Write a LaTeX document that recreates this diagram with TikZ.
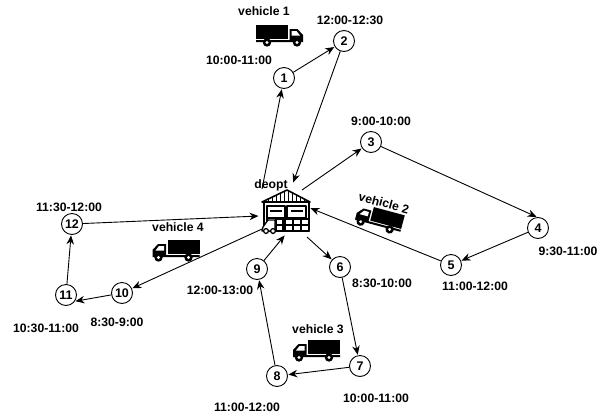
\documentclass[tikz,border=0pt]{standalone}
\usepackage{fontspec}
\setmainfont{Liberation Sans}
\usetikzlibrary{arrows.meta}
\tikzset{
  stopnode/.style={circle,draw,line width=0.9pt,fill=white,minimum size=21pt,inner sep=0pt,font=\bfseries\fontsize{12.5}{12.5}\selectfont},
  lab/.style={inner sep=0pt,font=\bfseries\fontsize{12.2}{13}\selectfont},
  route/.style={line width=0.9pt,-{Stealth[length=9pt,width=7.5pt]},shorten >=0.5pt},
  pics/truck/.style={code={
    \fill (-23.5,-8) rectangle (8.5,6);
    \fill (10,-4) -- (18,-4) -- (23.5,2) -- (23.5,9) -- (-23.5,9) -- (-23.5,7) -- (10,7) -- cycle;
    \fill[white] (12,-2) -- (17,-2) -- (20.5,2.5) -- (12,2.5) -- cycle;
    \fill (-12.5,9.5) circle (4.2); \fill[white] (-12.5,9.5) circle (1.6);
    \fill (17.5,9.5) circle (4.2); \fill[white] (17.5,9.5) circle (1.6);
  }}
}
\begin{document}
\begin{tikzpicture}[x=1pt,y=-1pt]
\useasboundingbox (0,0) rectangle (608,413);
% depot anchors
\coordinate (d1) at (262,189);
\coordinate (d2) at (293,183);
\coordinate (d3) at (302,190);
\coordinate (d5) at (310,208);
\coordinate (d6) at (307,237);
\coordinate (d9) at (285,235);
\coordinate (d10) at (262,229);
\coordinate (d12) at (259,216);
% warehouse
\begin{scope}[line width=1.3pt,line join=round]
  \draw[line width=1.6pt] (262,202) -- (287,190) -- (310,202) -- cycle;
  \foreach \x in {268,272,276,280,284,288,292,296,300,304}
    \draw[line width=1pt] (\x,{202-(\x<287?(\x-262)*0.48:(310-\x)*0.52)}) -- (\x,201);
  \draw[line width=1.6pt] (264,202) -- (264,231) -- (309,231) -- (309,202);
  \draw (267,206) rectangle (285,218);
  \draw (287,206) rectangle (306,218);
  \draw (270,211) -- (282,211);
  \draw (291,211) -- (303,211);
  \draw (267,218) -- (267,224);
  \draw (284,218) -- (284,231);
  \draw (276,219) rectangle (283,225);
  \draw (276,225) rectangle (283,231);
  \draw (285,219) rectangle (293,225);
  \draw (293,219) rectangle (301,225);
  \draw (301,219) rectangle (309,225);
  \draw (285,225) rectangle (293,231);
  \draw (293,225) rectangle (301,231);
  \draw (301,225) rectangle (309,231);
  \draw[fill=white] (275,220) -- (268,220) -- (263,227) -- (262,231) -- (275,231) -- cycle;
  \draw[fill=white] (266,231) circle (2.4);
  \draw[fill=white] (273,231) circle (2.4);
\end{scope}
% stops
\node[stopnode] (n1) at (284,78) {1};
\node[stopnode] (n2) at (344,41) {2};
\node[stopnode] (n3) at (371,142) {3};
\node[stopnode] (n4) at (538,228) {4};
\node[stopnode] (n5) at (451,265) {5};
\node[stopnode] (n6) at (340,267) {6};
\node[stopnode] (n7) at (360,366) {7};
\node[stopnode] (n8) at (277,376) {8};
\node[stopnode] (n9) at (257,269) {9};
\node[stopnode] (n10) at (122,293) {10};
\node[stopnode] (n11) at (66,295) {11};
\node[stopnode] (n12) at (72,224) {12};
% routes
\draw[route] (d1) -- (n1);
\draw[route] (n1) -- (n2);
\draw[route] (n2) -- (d2);
\draw[route] (d3) -- (n3);
\draw[route] (n3) -- (n4.95);
\draw[route] (n4) -- (n5);
\draw[route] (n5) -- (d5);
\draw[route] (d6) -- (n6);
\draw[route] (n6) -- (n7);
\draw[route] (n7) -- (n8);
\draw[route] (n8) -- (n9);
\draw[route] (n9) -- (d9);
\draw[route] (d10) -- (n10);
\draw[route] (n10) -- (n11.-35);
\draw[route] (n11) -- (n12);
\draw[route] (n12) -- (d12);
% trucks
\pic at (279.5,33) {truck};
\pic[rotate=-15,xscale=-1] at (380,217) {truck};
\pic[xscale=-1] at (316.5,348) {truck};
\pic[xscale=-1] at (176,248) {truck};
% labels
\node[lab] (depotlab) at (271,185) {deopt};
\node[lab] (v1) at (264,11) {vehicle 1};
\node[lab,rotate=-15] (v2) at (384,203) {vehicle 2};
\node[lab] (v3) at (318,329) {vehicle 3};
\node[lab] (v4) at (178,227) {vehicle 4};
\node[lab] (t1) at (239,60) {10:00-11:00};
\node[lab] (t2) at (350,20) {12:00-12:30};
\node[lab] (t3) at (381,121) {9:00-10:00};
\node[lab] (t4) at (568,251) {9:30-11:00};
\node[lab] (t5) at (475,286) {11:00-12:00};
\node[lab] (t6) at (382,283) {8:30-10:00};
\node[lab] (t7) at (376,398) {10:00-11:00};
\node[lab] (t8) at (247,407) {11:00-12:00};
\node[lab] (t9) at (220,290) {12:00-13:00};
\node[lab] (t10) at (117,322) {8:30-9:00};
\node[lab] (t11) at (46,328) {10:30-11:00};
\node[lab] (t12) at (69,207) {11:30-12:00};
\end{tikzpicture}
\end{document}
